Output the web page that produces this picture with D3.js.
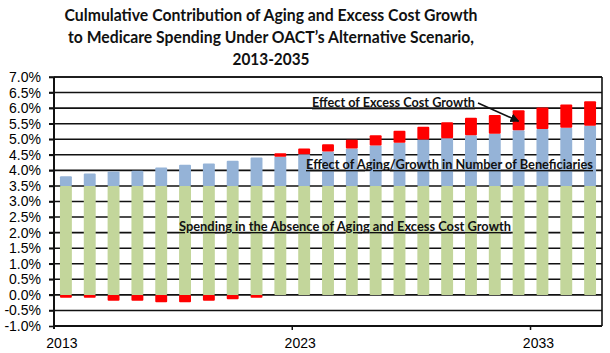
<!DOCTYPE html>
<html>
<head>
<meta charset="utf-8">
<script src="https://cdn.jsdelivr.net/npm/d3@7"></script>
<style>
  html, body { margin: 0; padding: 0; background: #fff; }
  svg { display: block; }
  text { font-family: "Liberation Sans", Arial, sans-serif; }
</style>
</head>
<body>
<svg id="chart" width="610" height="353"></svg>
<script>
// ---- data ----
const years = [2013, 2014, 2015, 2016, 2017, 2018, 2019, 2020, 2021, 2022, 2023, 2024,
               2025, 2026, 2027, 2028, 2029, 2030, 2031, 2032, 2033, 2034, 2035];
const spendingBase = [3.5, 3.5, 3.5, 3.5, 3.5, 3.5, 3.5, 3.5, 3.5, 3.5, 3.5, 3.5,
                      3.5, 3.5, 3.5, 3.5, 3.5, 3.5, 3.5, 3.5, 3.5, 3.5, 3.5];
const agingEffect = [0.31, 0.40, 0.46, 0.49, 0.59, 0.68, 0.72, 0.81, 0.91, 0.94, 1.02, 1.11,
                     1.20, 1.30, 1.39, 1.49, 1.53, 1.63, 1.68, 1.79, 1.83, 1.87, 1.93];
const excessCost = [-0.09, -0.09, -0.19, -0.19, -0.24, -0.24, -0.19, -0.14, -0.09, 0.11, 0.18, 0.23,
                    0.28, 0.33, 0.38, 0.41, 0.52, 0.56, 0.60, 0.64, 0.69, 0.75, 0.79];
const yTickValues = [-1.0, -0.5, 0.0, 0.5, 1.0, 1.5, 2.0, 2.5, 3.0, 3.5, 4.0, 4.5, 5.0, 5.5, 6.0, 6.5, 7.0];
const xTickLabels = [2013, 2023, 2033];
const seriesKeys = ["base", "aging", "excess"];
const seriesColors = ["#c3d69b", "#95b3d7", "#ff0000"];
const titleLines = ["Culmulative Contribution of Aging and Excess Cost Growth",
                    "to Medicare Spending Under OACT\u2019s Alternative Scenario,",
                    "2013-2035"];
const labelExcess = "Effect of Excess Cost Growth";
const labelAging = "Effect of Aging/Growth  in Number of Beneficiaries";
const labelBase = "Spending in the Absence of Aging  and  Excess Cost Growth";

// ---- layout ----
const svg = d3.select("#chart");
const pLeft = 54, pRight = 602, pTop = 77, pBottom = 326;
const calibriLike = "Lato, 'Open Sans', sans-serif";

const x = d3.scaleBand().domain(years).range([pLeft, pRight]).paddingInner(0.5).paddingOuter(0.25);
const y = d3.scaleLinear().domain([-1, 7]).range([pBottom, pTop]);

// ---- title ----
const titleWidths = [413, 406, 77];
svg.append("g").selectAll("text").data(titleLines).join("text")
  .attr("x", 271)
  .attr("y", (d, i) => 21 + i * 22)
  .attr("text-anchor", "middle")
  .attr("font-size", 17.5)
  .attr("font-weight", "bold")
  .style("font-family", calibriLike)
  .attr("fill", "#111")
  .attr("textLength", (d, i) => titleWidths[i])
  .attr("lengthAdjust", "spacingAndGlyphs")
  .text(d => d);

// ---- gridlines ----
svg.append("g").selectAll("line").data(yTickValues.filter(v => v > -1)).join("line")
  .attr("x1", pLeft - 5).attr("x2", pRight)
  .attr("y1", d => y(d)).attr("y2", d => y(d))
  .attr("stroke", "#111").attr("stroke-width", 1.6);

// ---- stacked bars ----
const table = years.map((yr, i) => ({ year: yr, base: spendingBase[i], aging: agingEffect[i], excess: excessCost[i] }));
const stacked = d3.stack().keys(seriesKeys).offset(d3.stackOffsetDiverging)(table);

svg.append("g").selectAll("g").data(stacked).join("g")
  .attr("fill", (d, i) => seriesColors[i])
  .selectAll("rect").data(d => d).join("rect")
  .attr("x", d => x(d.data.year))
  .attr("width", x.bandwidth())
  .attr("y", d => y(Math.max(d[0], d[1])))
  .attr("height", d => Math.abs(y(d[0]) - y(d[1])))
  .attr("rx", 1);

// ---- axes ----
const yAxis = d3.axisLeft(y).tickValues(yTickValues).tickSize(5).tickFormat(d => d.toFixed(1) + "%");
const gy = svg.append("g").attr("transform", `translate(${pLeft},0)`).call(yAxis);
gy.select(".domain").remove();
gy.selectAll(".tick line").attr("stroke", "#111").attr("stroke-width", 1.6);
gy.selectAll(".tick text").attr("font-size", 14).attr("fill", "#000").attr("x", -13)
  .style("font-family", "'Liberation Sans', Arial, sans-serif");

// frame: left axis, bottom axis, top and right border
svg.append("line").attr("x1", pLeft).attr("x2", pLeft).attr("y1", pTop).attr("y2", pBottom + 3)
  .attr("stroke", "#111").attr("stroke-width", 2);
svg.append("line").attr("x1", pLeft).attr("x2", pRight).attr("y1", pBottom).attr("y2", pBottom)
  .attr("stroke", "#111").attr("stroke-width", 2);
svg.append("line").attr("x1", pLeft).attr("x2", pRight).attr("y1", pTop).attr("y2", pTop)
  .attr("stroke", "#111").attr("stroke-width", 1.6);
svg.append("line").attr("x1", pRight).attr("x2", pRight).attr("y1", pTop).attr("y2", pBottom)
  .attr("stroke", "#111").attr("stroke-width", 1.6);

// x ticks at category boundaries + labels
const gx = svg.append("g");
gx.selectAll("line").data(xTickLabels.slice(1)).join("line")
  .attr("x1", d => x(d) - x.step() * x.paddingInner() / 2)
  .attr("x2", d => x(d) - x.step() * x.paddingInner() / 2)
  .attr("y1", pBottom).attr("y2", pBottom + 4)
  .attr("stroke", "#111").attr("stroke-width", 1.5);
gx.selectAll("text").data(xTickLabels).join("text")
  .attr("x", d => x(d) + x.bandwidth() / 2 - 4)
  .attr("y", 348)
  .attr("text-anchor", "middle")
  .attr("font-size", 14)
  .attr("fill", "#000")
  .text(d => d);

// ---- annotations ----
function annot(txt, x0, yb, w) {
  svg.append("text")
    .attr("x", x0).attr("y", yb)
    .attr("font-size", 13.5).attr("font-weight", "bold")
    .style("font-family", calibriLike)
    .attr("fill", "#111")
    .attr("text-decoration", "underline")
    .attr("textLength", w).attr("lengthAdjust", "spacingAndGlyphs")
    .text(txt);
}
annot(labelExcess, 312, 107, 163);
annot(labelAging, 306, 169, 287);
annot(labelBase, 179, 231, 332);

// arrow
svg.append("defs").append("marker")
  .attr("id", "arrowhead").attr("viewBox", "0 0 10 10")
  .attr("refX", 9).attr("refY", 5)
  .attr("markerWidth", 6).attr("markerHeight", 6)
  .attr("orient", "auto")
  .append("path").attr("d", "M0,0 L10,5 L0,10 z").attr("fill", "#111");
svg.append("line")
  .attr("x1", 478).attr("y1", 103)
  .attr("x2", x(2032) + x.bandwidth() / 2).attr("y2", y(5.58))
  .attr("stroke", "#111").attr("stroke-width", 1.5)
  .attr("marker-end", "url(#arrowhead)");
</script>
</body>
</html>
